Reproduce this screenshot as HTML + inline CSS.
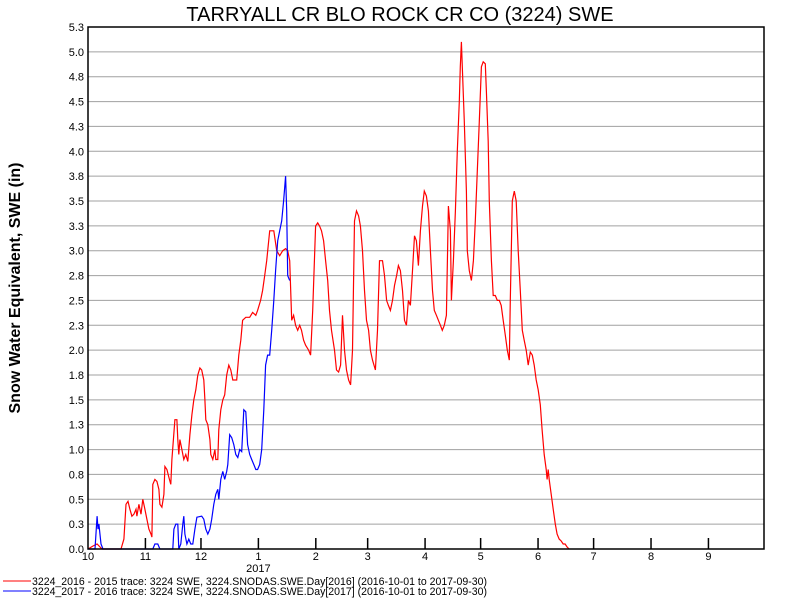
<!DOCTYPE html>
<html><head><meta charset="utf-8"><style>
body{margin:0;background:#fff;}
svg{display:block;font-family:"Liberation Sans",Arial,sans-serif;}
</style></head><body>
<svg id="chart" width="800" height="600">
<text x="400" y="21" text-anchor="middle" font-size="20">TARRYALL CR BLO ROCK CR CO (3224) SWE</text>
<text transform="translate(20,288) rotate(-90)" text-anchor="middle" font-size="16" font-weight="bold">Snow Water Equivalent, SWE (in)</text>
<g id="grid"></g>
<g id="yt"></g>
<g id="xt"></g>
<g id="series"></g>
<rect x="88" y="27" width="676" height="522" fill="none" stroke="#000" stroke-width="1.5"/>
<g>
<line x1="3" y1="581" x2="31" y2="581" stroke="#f00"/>
<text x="32" y="585" font-size="11" textLength="455" lengthAdjust="spacingAndGlyphs">3224_2016 - 2015 trace: 3224 SWE, 3224.SNODAS.SWE.Day[2016] (2016-10-01 to 2017-09-30)</text>
<line x1="3" y1="591" x2="31" y2="591" stroke="#00f"/>
<text x="32" y="595" font-size="11" textLength="455" lengthAdjust="spacingAndGlyphs">3224_2017 - 2016 trace: 3224 SWE, 3224.SNODAS.SWE.Day[2017] (2016-10-01 to 2017-09-30)</text>
</g>
</svg>
<script>
const yTickValues=[0,0.25,0.5,0.75,1,1.25,1.5,1.75,2,2.25,2.5,2.75,3,3.25,3.5,3.75,4,4.25,4.5,4.75,5,5.25];
const yTickLabels=["0.0","0.3","0.5","0.8","1.0","1.3","1.5","1.8","2.0","2.3","2.5","2.8","3.0","3.3","3.5","3.8","4.0","4.3","4.5","4.8","5.0","5.3"];
const monthLabels=["10","11","12","1","2","3","4","5","6","7","8","9"];
const monthStartDays=[0,31,61,92,123,151,182,212,243,273,304,335];
const redDays=[0,2.7,4.9,6.5,7.5,17.8,19.4,20.5,21.6,22.6,23.7,24.8,25.9,26.4,27.5,28.6,29.6,30.7,31.8,32.9,34.0,34.5,35.0,36.1,37.2,38.3,38.8,39.9,41.0,41.5,42.6,43.7,44.7,45.3,46.9,48.0,48.5,49.0,49.6,50.7,51.7,52.8,53.9,55.0,56.1,57.1,58.2,59.3,60.4,61.4,62.5,63.1,63.6,64.7,65.8,66.3,67.4,68.5,69.0,70.1,70.6,71.7,72.8,73.8,74.9,76.0,77.1,78.2,79.2,80.3,81.4,82.5,83.5,85.2,87.3,88.9,90.6,91.6,93.2,94.3,95.4,96.5,98.1,100.3,101.9,103.5,105.1,106.7,107.8,108.9,110.0,111.0,112.1,113.2,114.3,115.3,116.4,117.5,119.1,120.2,121.3,122.9,124.0,125.0,126.1,127.2,128.3,129.4,130.4,131.5,133.1,134.2,135.3,136.4,137.4,138.5,139.6,140.7,141.8,142.8,143.9,145.0,146.1,147.1,148.2,149.3,150.4,151.5,152.5,153.6,155.2,156.3,157.4,159.0,160.1,161.2,162.2,163.3,164.4,165.5,166.6,167.6,168.7,169.8,170.9,171.9,173.0,174.1,175.2,176.3,177.3,178.4,179.5,180.6,181.6,182.7,183.8,184.9,186.0,187.0,188.1,189.2,190.3,191.3,192.4,193.5,194.6,195.7,196.2,197.3,198.4,199.4,200.5,201.0,201.6,202.1,203.2,204.3,204.8,205.9,207.0,208.1,209.1,210.2,211.3,212.4,213.4,214.5,215.1,216.1,216.7,217.8,218.8,219.9,221.0,222.1,223.1,224.2,225.3,226.4,227.5,228.0,229.1,230.2,231.2,232.3,233.4,234.5,235.5,236.6,237.7,238.8,239.9,240.9,242.0,243.1,244.2,245.2,246.3,247.4,247.9,248.5,249.0,250.1,251.2,252.3,253.3,254.4,255.5,256.6,257.6,258.7,259.8];
const redValues=[0,0.03,0.05,0.02,0,0,0.1,0.45,0.48,0.4,0.33,0.35,0.4,0.33,0.45,0.35,0.5,0.4,0.3,0.2,0.15,0.12,0.65,0.7,0.68,0.6,0.45,0.42,0.55,0.83,0.8,0.72,0.65,0.9,1.3,1.3,1.1,0.95,1.1,1.0,0.9,0.95,0.88,1.15,1.35,1.5,1.6,1.75,1.82,1.8,1.7,1.5,1.3,1.25,1.1,0.95,0.9,1.0,0.9,0.9,1.2,1.4,1.5,1.55,1.75,1.85,1.8,1.7,1.7,1.7,1.95,2.1,2.3,2.33,2.33,2.38,2.35,2.4,2.5,2.6,2.75,2.9,3.2,3.2,3.0,2.95,3.0,3.02,3.0,2.9,2.3,2.35,2.25,2.2,2.25,2.2,2.1,2.05,2.0,1.95,2.4,3.25,3.28,3.25,3.2,3.1,2.9,2.7,2.4,2.2,2.0,1.8,1.78,1.85,2.35,2.0,1.8,1.7,1.65,2.0,3.3,3.4,3.35,3.25,3.0,2.6,2.3,2.2,2.0,1.9,1.8,2.2,2.9,2.9,2.75,2.5,2.45,2.4,2.5,2.65,2.75,2.85,2.8,2.6,2.3,2.25,2.5,2.45,2.8,3.15,3.1,2.85,3.2,3.45,3.6,3.55,3.4,3.0,2.6,2.4,2.35,2.3,2.25,2.2,2.25,2.35,3.45,3.2,2.5,2.9,3.4,4.0,4.5,4.85,5.1,4.85,4.3,3.6,3.0,2.8,2.7,2.9,3.3,3.8,4.3,4.85,4.9,4.88,4.6,4.1,3.5,2.9,2.55,2.55,2.5,2.5,2.45,2.3,2.15,2.0,1.9,2.5,3.5,3.6,3.5,3.0,2.6,2.2,2.1,2.0,1.85,1.98,1.95,1.85,1.7,1.6,1.45,1.2,0.95,0.8,0.7,0.8,0.7,0.55,0.4,0.25,0.15,0.1,0.08,0.05,0.05,0.02,0];
const blueDays=[0,3.8,4.9,5.4,5.9,7.0,8.1,35.0,36.1,37.7,38.8,45.8,46.4,47.4,48.5,49.0,50.1,51.2,51.7,52.3,53.4,54.4,55.5,56.6,57.7,58.8,61.4,62.5,63.6,64.7,65.8,66.8,67.9,69.0,70.1,70.6,71.7,72.8,73.8,74.9,75.5,76.5,77.6,78.7,79.8,80.9,81.9,83.0,84.1,85.2,86.2,87.3,88.4,89.5,90.6,91.6,92.7,93.8,94.9,95.9,97.0,98.1,99.2,100.3,101.3,102.4,103.5,104.6,105.6,106.7,107.3,107.8,108.9];
const blueValues=[0,0,0.33,0.2,0.25,0.05,0,0,0.05,0.05,0,0,0.2,0.25,0.25,0,0.05,0.25,0.33,0.15,0.05,0.1,0.05,0.05,0.2,0.32,0.33,0.3,0.2,0.15,0.2,0.3,0.45,0.55,0.6,0.5,0.7,0.78,0.7,0.78,0.85,1.15,1.12,1.05,0.95,0.92,1.0,0.98,1.4,1.38,1.05,0.95,0.9,0.85,0.8,0.8,0.85,1.0,1.4,1.85,1.95,1.95,2.2,2.5,2.8,3.1,3.2,3.3,3.5,3.75,3.4,2.75,2.7];

const NS='http://www.w3.org/2000/svg';
const X0=88,X1=764,Y0=549,Y1=27,DAYS=365,YMAX=5.25;
function xs(d){return X0+d*(X1-X0)/DAYS;}
function ys(v){return Y0-v*(Y0-Y1)/YMAX;}
function mk(tag,attrs,parent){const e=document.createElementNS(NS,tag);for(const k in attrs)e.setAttribute(k,attrs[k]);parent.appendChild(e);return e;}
const grid=document.getElementById('grid'),yt=document.getElementById('yt'),xt=document.getElementById('xt'),ser=document.getElementById('series');
yTickValues.forEach((v,i)=>{
  if(i>0&&i<yTickValues.length-1){const g=mk('line',{x1:X0,x2:X1,y1:ys(v),y2:ys(v),stroke:'#a0a0a0'},grid);
  
  }
  const t=mk('text',{x:X0-4,y:ys(v)+4,'text-anchor':'end','font-size':11},yt);
  
  
  t.textContent=yTickLabels[i];
});
monthStartDays.forEach((d,i)=>{
  const x=xs(d);
  if(i>0){const tk=mk('line',{x1:x,x2:x,y1:Y0,y2:Y0-11,stroke:'#000','stroke-width':1.5},xt);
  
  }
  const t=mk('text',{x:x,y:560,'text-anchor':'middle','font-size':11},xt);
  
  
  t.textContent=monthLabels[i];
});
const yr=mk('text',{x:xs(92),y:572,'text-anchor':'middle','font-size':11},xt);


yr.textContent='2017';
function line(days,vals,color,name){
  const p=days.map((d,i)=>xs(d).toFixed(1)+','+ys(vals[i]).toFixed(1)).join(' ');
  const pl=mk('polyline',{points:p,fill:'none',stroke:color,'stroke-width':1.2},ser);
  
  
}
line(redDays,redValues,'#f00','series-2016');
line(blueDays,blueValues,'#00f','series-2017');
</script>
</body></html>
